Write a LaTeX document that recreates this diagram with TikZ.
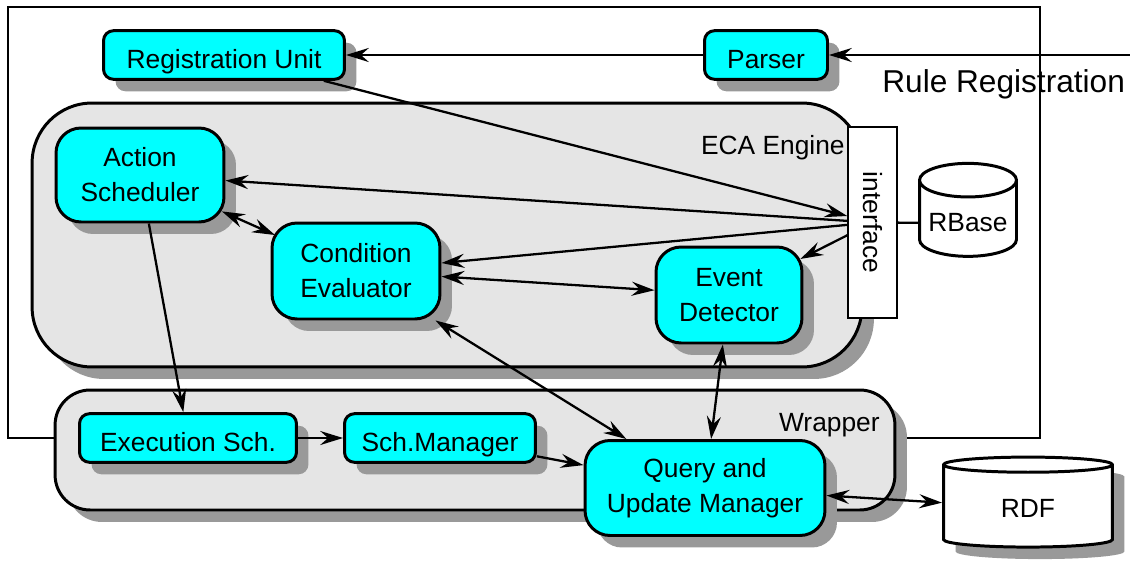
\documentclass[tikz,border=0pt]{standalone}
\usepackage{fontspec}
\setmainfont{Liberation Sans}
\usetikzlibrary{arrows.meta,shadows,shapes.geometric}
\definecolor{aqua}{RGB}{0,255,255}
\tikzset{
    SH/.style ={drop shadow={shadow xshift=0.24cm, shadow yshift=-0.24cm, fill=black!40, opacity=1}},
    RA1/.style ={rectangle, rounded corners=0.2cm, minimum height=0.94cm, text height=18pt, text depth=3pt, draw, line width=1.7pt, fill=aqua, SH},
    RA2/.style ={rectangle, rounded corners=0.5cm, minimum width=3.36cm, draw, line width=1.7pt, fill=aqua, SH, align=center},
    BG/.style ={rectangle, draw, line width=1.7pt, fill=black!10, SH},
    CY/.style ={cylinder, shape border rotate=90, draw, line width=1.7pt, fill=white},
    LB/.style ={inner sep=0pt},
    AR/.style ={line width=1.3pt, -{Stealth[length=13pt,width=8pt,inset=4.5pt]}},
    DA/.style ={line width=1.3pt, {Stealth[length=13pt,width=8pt,inset=4.5pt]}-{Stealth[length=13pt,width=8pt,inset=4.5pt]}}}

\begin{document}
\begin{tikzpicture}[x=0.02cm,y=-0.02cm,every node/.style={font=\fontsize{15}{20}\selectfont}]
        \useasboundingbox (0,0) rectangle (1130,565);
        \node[draw, line width=1.3pt, minimum width=20.64cm, minimum height=8.62cm] (RR) at(524,222.5){};
        \node[LB, font=\fontsize{18}{22}\selectfont, anchor=west] (RRL) at(882,84){Rule Registration};
        \node[BG, rounded corners=1.2cm, minimum width=16.6cm, minimum height=5.28cm] (ECA) at(447,235){};
        \node[LB, anchor=east] (ECAL) at(845,148){ECA Engine};
        \node[draw, fill=white, line width=0.8pt, minimum width=0.98cm, minimum height=3.82cm, inner sep=0pt] (IF) at(872.5,222.5){\rotatebox{-90}{interface}};
        \node[CY, aspect=0.37, minimum width=1.94cm, minimum height=1.86cm] (RB) at(968,223){RBase};
        \node[BG, rounded corners=0.7cm, minimum width=16.8cm, minimum height=2.4cm] (WR) at(475,450){};
        \node[LB, anchor=east] (WRL) at(880,425){Wrapper};
        \node[RA1, minimum width=4.82cm] (RU) at(224,55){Registration Unit};
        \node[RA1, minimum width=2.46cm] (PA) at(766,55){Parser};
        \node[RA2, minimum height=1.88cm] (AS) at(140,175){Action\\Scheduler};
        \node[RA2, minimum height=1.92cm] (CE) at(356,271){Condition\\Evaluator};
        \node[RA2, minimum width=2.92cm, minimum height=1.92cm] (ED) at(729,295){Event\\Detector};
        \node[RA1, minimum width=4.34cm] (ES) at(188,438){Execution Sch.};
        \node[RA1, minimum width=3.82cm] (SM) at(440,438){Sch.Manager};
        \node[RA2, minimum width=4.8cm, minimum height=1.9cm] (QU) at(705,488){Query and\\Update Manager};
        \node[CY, SH, aspect=0.23, minimum width=3.38cm, minimum height=1.8cm] (RD) at(1028,508){RDF};
        \coordinate (IN) at(1130,55);
        \draw[AR] (IN) --(PA);
        \draw[AR] (PA) --(RU);
        \draw[AR] (RU) --(IF);
        \draw[AR] (IF) --(AS);
        \draw[AR] (IF) --(CE);
        \draw[AR, shorten >=-2pt] (IF) --(ED);
        \draw[line width=1.3pt] (IF) --(RB);
        \draw[DA, shorten <=-2.2pt, shorten >=-2.8pt] (AS) --(CE);
        \draw[DA] (CE) --(ED);
        \draw[AR] (AS) --(ES);
        \draw[AR] (ES) --(SM);
        \draw[AR] (SM) --(QU);
        \draw[DA] (CE) --(QU);
        \draw[DA] (ED) --(QU);
        \draw[DA] (QU) --(RD);
    \end{tikzpicture}
\end{document}
